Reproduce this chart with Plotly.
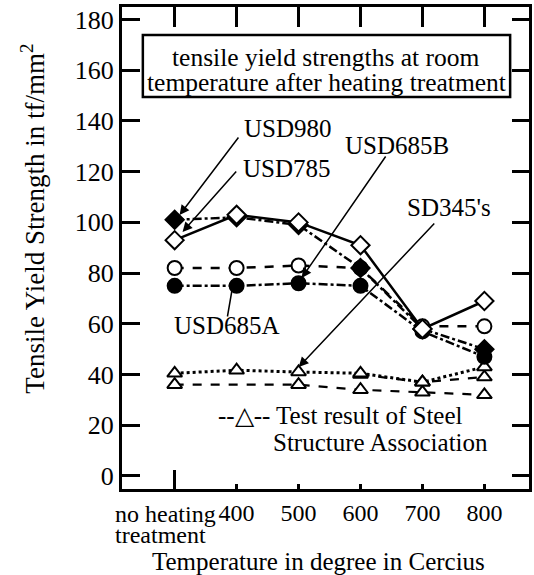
import plotly.graph_objects as go

# ---------------- data ----------------
categories = ["no heating", "400", "500", "600", "700", "800"]
x_idx = [0, 1, 2, 3, 4, 5]
usd980 = [101, 102, 99, 82, 58, 50]
usd785 = [93, 103, 100, 91, 58, 69]
usd685b = [82, 82, 83, 82, 59, 59]
usd685a = [75, 75, 76, 75, 57, 47]
sd345_upper = [40.5, 41.7, 41, 40.5, 37, 43]
sd345_lower = [36, None, 36, 34, 33, 32]
ssa_test = [None, None, None, 40, 37, 39]
y_ticks = [0, 20, 40, 60, 80, 100, 120, 140, 160, 180]

# ---------------- geometry helpers ----------------
W, H = 534, 575
L, R, T, B = 122, 2, 7, 86
PW, PH = W - L - R, H - T - B
FONT = "Liberation Serif"


def px(xp):
    return (xp - L) / PW


def py(yp):
    return (H - B - yp) / PH


fig = go.Figure()


def add_series(y, symbol, filled, dash, width=2.5, size=13, connect=False):
    fig.add_trace(go.Scatter(
        x=x_idx, y=y, mode="lines+markers",
        connectgaps=connect,
        line=dict(color="black", width=width, dash=dash),
        marker=dict(symbol=symbol, size=size,
                    color="black" if filled else "white",
                    line=dict(color="black", width=2)),
        showlegend=False, hoverinfo="skip"))


add_series(sd345_lower, "triangle-up", False, "dash", width=2.2, connect=True)
add_series(ssa_test, "triangle-up", False, "dash", width=2.2)
add_series(sd345_upper, "triangle-up", False, "dot", width=3)
add_series(usd685b, "circle", False, "dash", size=14)
add_series(usd685a, "circle", True, "dashdot", size=14)
add_series(usd980, "diamond", True, "dashdot", size=14)
add_series(usd785, "diamond", False, "solid", size=14)

# dummy traces so the overlay axes render
fig.add_trace(go.Scatter(x=[None], y=[None], xaxis="x2", yaxis="y2",
                         showlegend=False, hoverinfo="skip"))
fig.add_trace(go.Scatter(x=[None], y=[None], xaxis="x3", yaxis="y",
                         showlegend=False, hoverinfo="skip"))

xr = [-0.85, 5.72]
yr = [-5.13, 184.93]

fig.update_layout(
    width=W, height=H,
    margin=dict(l=L, r=R, t=T, b=B),
    paper_bgcolor="white", plot_bgcolor="white",
    font=dict(family=FONT, color="black"),
    xaxis=dict(range=xr, tickvals=x_idx[1:], ticktext=categories[1:],
               ticks="inside", ticklen=5, tickwidth=2.5, tickcolor="black",
               showline=True, linewidth=3, linecolor="black", mirror=True,
               showgrid=False, zeroline=False,
               tickfont=dict(size=24, family=FONT), ticklabelstandoff=0),
    xaxis2=dict(range=xr, overlaying="x", side="top", tickvals=x_idx,
                ticks="inside", ticklen=20, tickwidth=2.5, tickcolor="black",
                showticklabels=False, showgrid=False, zeroline=False,
                showline=False),
    xaxis3=dict(range=xr, overlaying="x", side="bottom", tickvals=[0],
                ticks="inside", ticklen=19, tickwidth=2.5, tickcolor="black",
                showticklabels=False, showgrid=False, zeroline=False,
                showline=False),
    yaxis=dict(range=yr, tickvals=y_ticks, ticks="inside", ticklen=18,
               tickwidth=3, tickcolor="black",
               showline=True, linewidth=3, linecolor="black", mirror=True,
               showgrid=False, zeroline=False,
               tickfont=dict(size=26, family=FONT), ticklabelstandoff=0),
    yaxis2=dict(range=yr, overlaying="y", side="right", tickvals=y_ticks,
                ticks="inside", ticklen=17, tickwidth=3, tickcolor="black",
                showticklabels=False, showgrid=False, zeroline=False,
                showline=False),
)

# title box
fig.add_shape(type="rect", xref="paper", yref="paper",
              x0=px(143), x1=px(513), y0=py(97), y1=py(35),
              line=dict(color="black", width=2.5), fillcolor="white")

ann = []


def text(t, xp, yp, size=25, xanchor="left"):
    ann.append(dict(text=t, x=px(xp), y=py(yp), xref="paper", yref="paper",
                    xanchor=xanchor, yanchor="middle", showarrow=False,
                    font=dict(size=size, family=FONT, color="black")))


def arrow(head, tail, head_on=True):
    ann.append(dict(text="", x=px(head[0]), y=py(head[1]),
                    xref="paper", yref="paper",
                    ax=tail[0] - head[0], ay=tail[1] - head[1],
                    showarrow=True, arrowhead=2 if head_on else 0,
                    arrowsize=1.3, arrowwidth=1.5, arrowcolor="black",
                    standoff=0))


text("tensile yield strengths at room", 328, 58, size=25.5, xanchor="center")
text("temperature after heating treatment", 328, 82, size=25.5, xanchor="center")

text("USD980", 243, 128)
text("USD785", 242, 168)
text("USD685B", 345, 145)
text("SD345's", 407, 208)
text("USD685A", 172, 325)
text("--△-- Test result of Steel", 217, 415)
text("Structure Association", 272, 442)

arrow((180, 215), (240, 136))
arrow((183, 232), (238, 170))
arrow((303, 278), (388, 155))
arrow((300, 367), (437, 222))
arrow((233, 289), (228, 318), head_on=False)

# category label that sits left of its tick
text("no heating", 113, 514, size=24)
text("treatment", 113, 535, size=24)

# axis titles
text("Temperature in degree in Cercius", 320, 561, size=25, xanchor="center")
ann.append(dict(text="Tensile Yield Strength in tf/mm<sup>2</sup>",
                x=px(32), y=py(219), xref="paper", yref="paper",
                xanchor="center", yanchor="middle", showarrow=False,
                textangle=-90,
                font=dict(size=27, family=FONT, color="black")))

fig.update_layout(annotations=ann)
fig.write_html("out.html", config={"displayModeBar": False},
               post_script="document.body.style.margin='0';")
